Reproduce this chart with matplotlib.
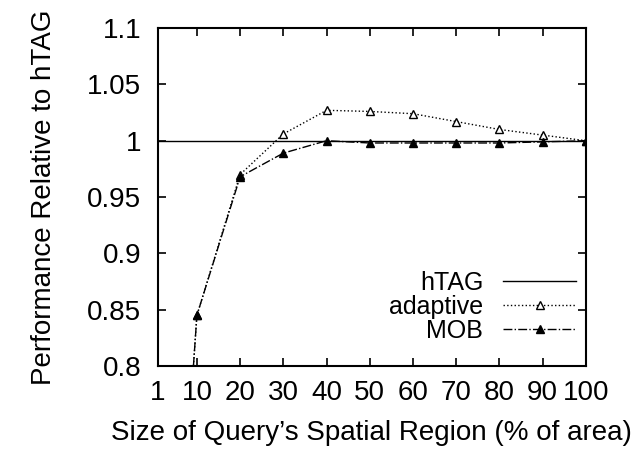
import matplotlib.pyplot as plt

# query region size (% of area) and relative performance
sizes = [1, 10, 20, 30, 40, 50, 60, 70, 80, 90, 100]
htag = [1.0] * len(sizes)
adaptive = [0.34, 0.845, 0.970, 1.006, 1.027, 1.026, 1.024, 1.017, 1.010, 1.005, 1.000]
mob = [0.34, 0.845, 0.968, 0.989, 1.000, 0.998, 0.998, 0.998, 0.998, 0.999, 1.000]

xticks = [1, 10, 20, 30, 40, 50, 60, 70, 80, 90, 100]
yticks = [0.8, 0.85, 0.9, 0.95, 1.0, 1.05, 1.1]
ytick_labels = ['0.8', '0.85', '0.9', '0.95', '1', '1.05', '1.1']

plt.rcParams['font.family'] = ['Liberation Sans', 'DejaVu Sans']

fig = plt.figure(figsize=(6.32, 4.53), dpi=100)
ax = fig.add_axes([0.25, 0.192, 0.677, 0.746])

ax.plot(sizes, htag, color='black', linewidth=1.0, label='hTAG')
ax.plot(sizes, adaptive, color='black', linestyle=':', linewidth=1.0,
        marker='^', markersize=6, markerfacecolor='white', markeredgecolor='black',
        label='adaptive')
ax.plot(sizes, mob, color='black', linestyle='-.', linewidth=1.0,
        marker='^', markersize=6, markerfacecolor='black', markeredgecolor='black',
        label='MOB')

ax.set_xlim(1, 100)
ax.set_ylim(0.8, 1.1)
ax.set_xticks(xticks)
ax.set_yticks(yticks)
ax.set_yticklabels(ytick_labels)
ax.tick_params(direction='in', top=True, right=True, length=6, width=1.2,
               labelsize=20)
ax.tick_params(axis='x', pad=10)
ax.tick_params(axis='y', pad=12)
for s in ax.spines.values():
    s.set_linewidth(1.5)

ax.set_xlabel("Size of Query\u2019s Spatial Region (% of area)", fontsize=20, labelpad=10)
ax.set_ylabel('Performance Relative to hTAG', fontsize=20, labelpad=22)

ax.legend(loc='lower right', bbox_to_anchor=(1.0, 0.04), frameon=False,
          markerfirst=False, fontsize=18, handlelength=2.9, labelspacing=0,
          borderaxespad=0, handletextpad=0.8)

fig.savefig('out.png', dpi=100)
